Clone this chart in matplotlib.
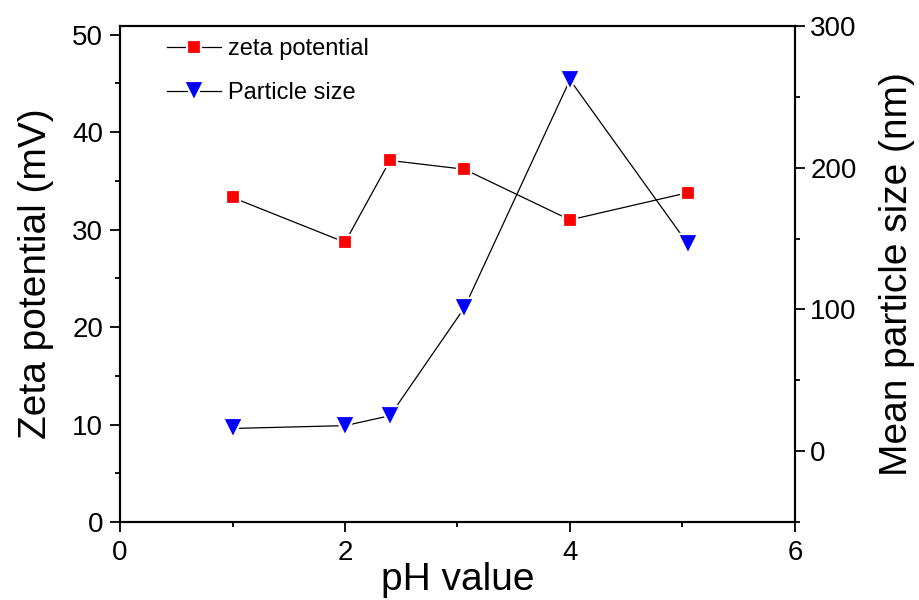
import numpy as np
import matplotlib as mpl
mpl.use('Agg')
from matplotlib import pyplot as plt
from matplotlib.ticker import MultipleLocator

mpl.rcParams['font.family'] = ['Liberation Sans', 'DejaVu Sans']
mpl.rcParams['axes.linewidth'] = 1.5

# data
ph_values   = [1.0, 2.0, 2.4, 3.06, 4.0, 5.05]
zeta_mv     = [33.3, 28.7, 37.1, 36.2, 31.0, 33.8]
size_nm     = [16, 18, 25, 101, 262, 146]

x_ticks     = [0, 2, 4, 6]
zeta_ticks  = [0, 10, 20, 30, 40, 50]
size_ticks  = [0, 100, 200, 300]

fig = plt.figure(figsize=(9.19, 6.0), dpi=100)
ax  = fig.add_axes([0.1306, 0.13, 0.865 - 0.1306, 0.9567 - 0.13])
ax2 = ax.twinx()

l1, = ax.plot(ph_values, zeta_mv, color='black', lw=0.9, marker='s', ms=10,
              mfc='red', mec='white', mew=1.6, label='zeta potential')
l2, = ax2.plot(ph_values, size_nm, color='black', lw=0.9, marker='v', ms=14,
               mfc='blue', mec='white', mew=1.6, label='Particle size')

ax.set_xlim(0, 6)
ax.set_ylim(0, 50.9)
ax2.set_ylim(-50, 300)

ax.set_xticks(x_ticks)
ax.set_yticks(zeta_ticks)
ax2.set_yticks(size_ticks)
ax.xaxis.set_minor_locator(MultipleLocator(1))
ax.yaxis.set_minor_locator(MultipleLocator(5))
ax2.yaxis.set_minor_locator(MultipleLocator(50))

ax.tick_params(which='major', direction='out', length=7, width=1.3, labelsize=20, pad=5)
ax.tick_params(which='minor', direction='out', length=3.5, width=1.3)
ax.tick_params(axis='x', which='major', pad=6)
ax2.tick_params(which='major', direction='out', length=7, width=1.3, labelsize=20, pad=4)
ax2.tick_params(which='minor', direction='out', length=3.5, width=1.3)

ax.set_xlabel('pH value', fontsize=28, labelpad=-3)
ax.set_ylabel('Zeta potential (mV)', fontsize=28, labelpad=13)
ax2.set_ylabel('Mean particle size (nm)', fontsize=28, labelpad=16)

ax.legend(handles=[l1, l2], loc='upper left', bbox_to_anchor=(0.052, 1.0),
          frameon=False, fontsize=17, handlelength=2.3, handletextpad=0.3,
          labelspacing=0.95, borderaxespad=0.1)

fig.savefig('out.png', dpi=100)
